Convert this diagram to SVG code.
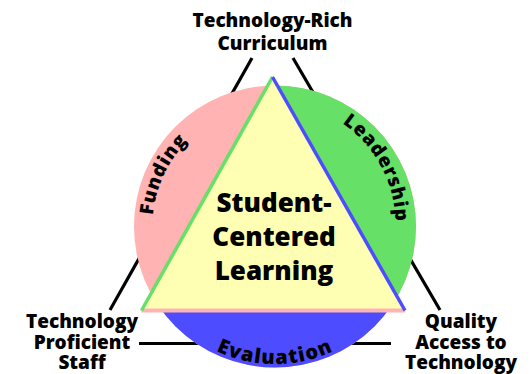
<svg xmlns="http://www.w3.org/2000/svg" width="532" height="374" viewBox="0 0 532 374">
<style>
.lbl{font-family:"Open Sans","Noto Sans",sans-serif;font-weight:800;font-size:19px;fill:#000;text-anchor:middle}
.ctr{font-family:"Open Sans","Noto Sans",sans-serif;font-weight:800;font-size:26px;fill:#000;text-anchor:middle}
.arc{font-family:"Open Sans","Noto Sans",sans-serif;font-weight:800;font-size:19px;fill:#000;letter-spacing:0.8px}
.ln{stroke:#000;stroke-width:3.2;fill:none}
</style>
<defs>
<clipPath id="circ"><circle cx="275" cy="226.5" r="141"/></clipPath>
<path id="pF" d="M 154 248 A 122 122 0 0 1 214 121"/>
<path id="pL" d="M 330 116 A 122 122 0 0 1 395 236"/>
<path id="pE" d="M 155.9 295.3 A 137.5 137.5 0 0 0 394.1 295.3"/>
</defs>
<rect width="532" height="374" fill="#fff"/>
<g id="connectors">
<line class="ln" x1="252" y1="58" x2="110" y2="310"/>
<line class="ln" x1="293" y1="58" x2="440" y2="310"/>
<line class="ln" x1="139" y1="343.5" x2="391" y2="343.5"/>
</g>
<g id="circle">
<g clip-path="url(#circ)">
<rect x="0" y="0" width="532" height="374" fill="#ffb3b3"/>
<polygon points="171.8,-100 600,-100 600,400 456.2,400" fill="#66e066"/>
<rect x="0" y="310" width="532" height="100" fill="#4d4dff"/>
</g>
</g>
<g id="funding"><text class="arc"><textPath href="#pF" startOffset="50%" text-anchor="middle">Funding</textPath></text></g>
<g id="leadership"><text class="arc"><textPath href="#pL" startOffset="50%" text-anchor="middle">Leadership</textPath></text></g>
<g id="evaluation"><text class="arc" style="font-size:20px;letter-spacing:1.2px"><textPath href="#pE" startOffset="50%" text-anchor="middle">Evaluation</textPath></text></g>
<g id="center">
<polygon points="272.5,77 141.5,310.5 405,310.5" fill="#ffffb3"/>
<line x1="141.5" y1="310.5" x2="405" y2="310.5" stroke="#ffb3b3" stroke-width="4"/>
<line x1="272.5" y1="77" x2="141.5" y2="310.5" stroke="#66e066" stroke-width="3.5"/>
<line x1="272.5" y1="77" x2="405" y2="310.5" stroke="#4d4dff" stroke-width="3.5"/>
<text class="ctr" x="274" y="212">Student-</text>
<text class="ctr" x="274" y="246">Centered</text>
<text class="ctr" x="274" y="280">Learning</text>
</g>
<g id="curriculum">
<text class="lbl" x="272.5" y="27">Technology-Rich</text>
<text class="lbl" x="272.5" y="49.5">Curriculum</text>
</g>
<g id="staff">
<text class="lbl" x="82" y="327.5">Technology</text>
<text class="lbl" x="82" y="348.5">Proficient</text>
<text class="lbl" x="82" y="368.5">Staff</text>
</g>
<g id="access">
<text class="lbl" x="461" y="328">Quality</text>
<text class="lbl" x="461" y="348.5">Access to</text>
<text class="lbl" x="461" y="368.5">Technology</text>
</g>
</svg>
